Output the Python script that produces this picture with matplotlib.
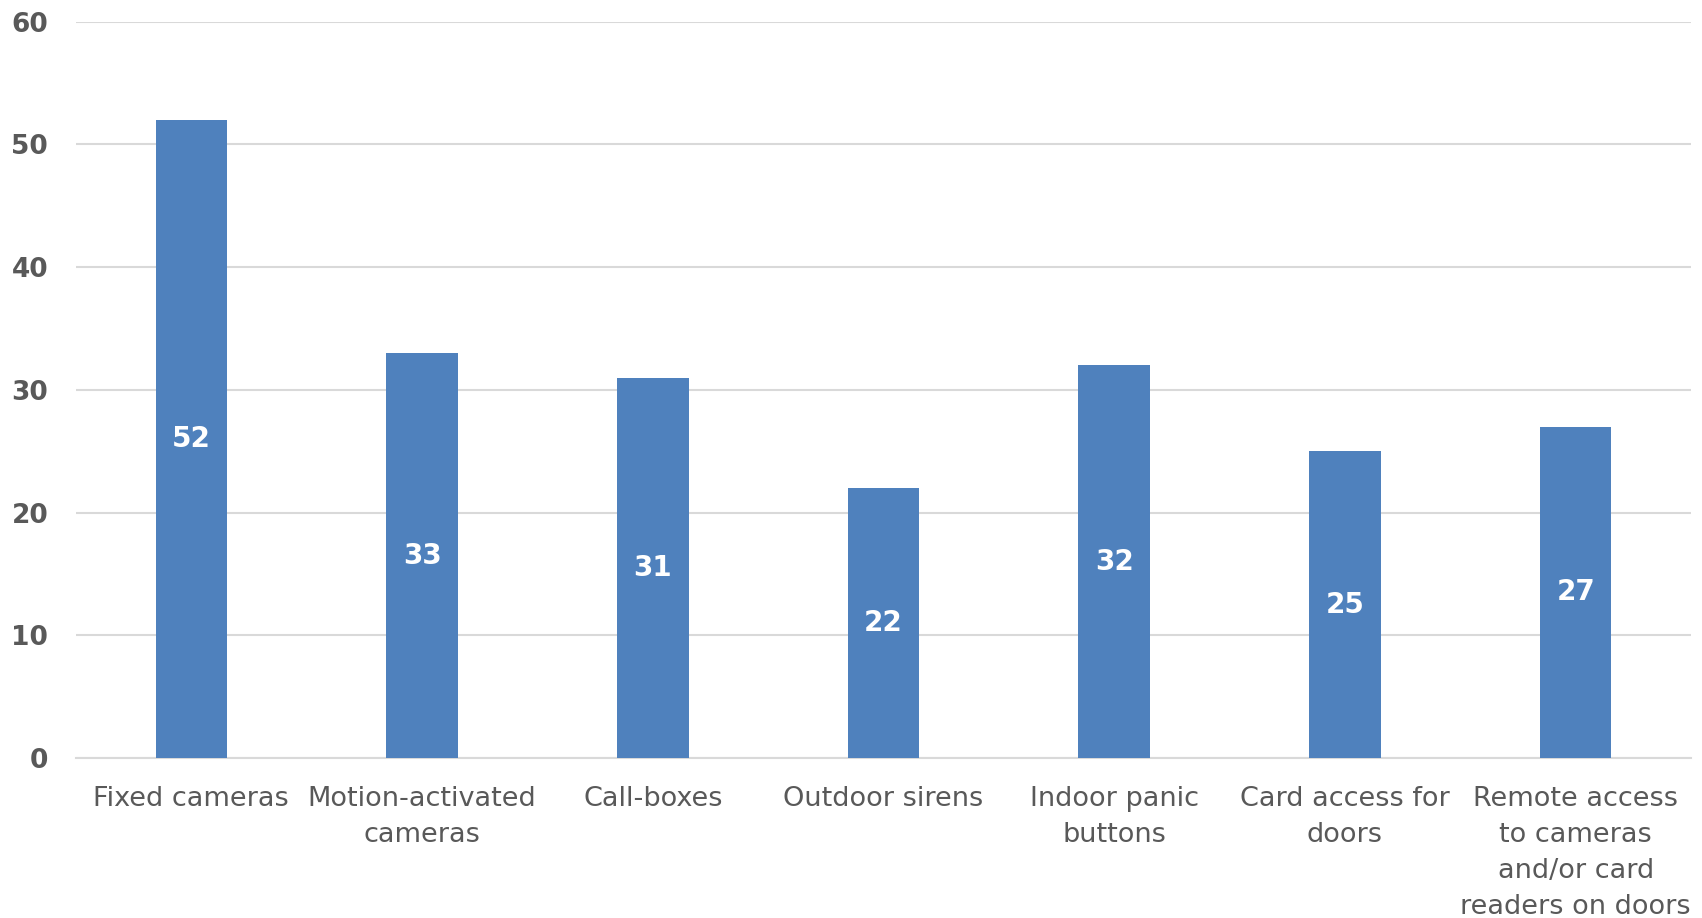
import matplotlib
matplotlib.use("Agg")
import matplotlib.pyplot as plt

categories = ["Fixed cameras", "Motion-activated\ncameras", "Call-boxes", "Outdoor sirens",
              "Indoor panic\nbuttons", "Card access for\ndoors",
              "Remote access\nto cameras\nand/or card\nreaders on doors"]
values = [52, 33, 31, 22, 32, 25, 27]
yticks = [0, 10, 20, 30, 40, 50, 60]

fig = plt.figure(figsize=(17.02, 9.18), dpi=100)
ax = fig.add_axes([76/1702, 1 - 758/918, (1691-76)/1702, (758-21.7)/918])
x = list(range(len(values)))
bars = ax.bar(x, values, width=0.31, color="#4F81BD", zorder=3)
for xi, v in zip(x, values):
    ax.text(xi, v/2, str(v), ha="center", va="center", color="white",
            fontsize=20, fontweight="bold", zorder=4)
ax.set_xlim(-0.5, len(values)-0.5)
ax.set_ylim(0, 60)
ax.set_yticks(yticks)
ax.set_yticklabels([str(t) for t in yticks], fontsize=19, color="#595959", fontweight="bold")
ax.yaxis.grid(True, color="#D9D9D9", linewidth=1.5, zorder=0)
ax.set_xticks(x)
ax.set_xticklabels(categories, fontsize=19.5, color="#595959", linespacing=1.5, va="top")
ax.tick_params(axis="both", length=0)
ax.tick_params(axis="x", pad=20)
ax.tick_params(axis="y", pad=20)
for s in ["top", "right", "left"]:
    ax.spines[s].set_visible(False)
ax.spines["bottom"].set_color("#D9D9D9")
ax.spines["bottom"].set_linewidth(1.5)
fig.savefig("out.png", dpi=100)
